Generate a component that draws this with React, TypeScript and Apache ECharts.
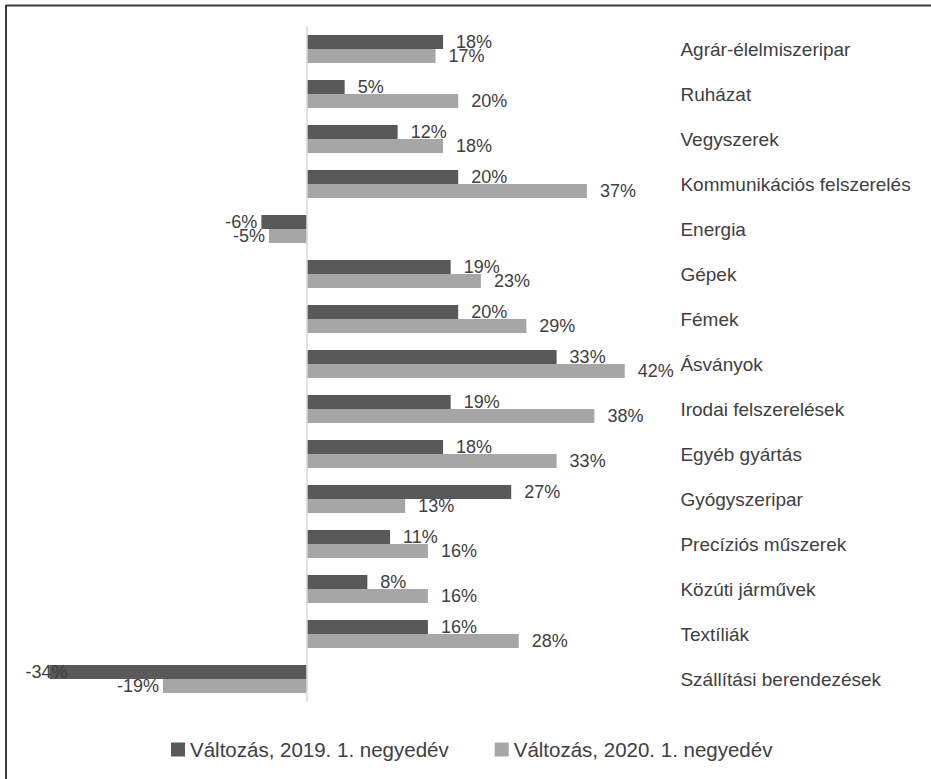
import React, { useEffect, useRef } from 'react';
import * as echarts from 'echarts';

const categories = [
  'Agrár-élelmiszeripar',
  'Ruházat',
  'Vegyszerek',
  'Kommunikációs felszerelés',
  'Energia',
  'Gépek',
  'Fémek',
  'Ásványok',
  'Irodai felszerelések',
  'Egyéb gyártás',
  'Gyógyszeripar',
  'Precíziós műszerek',
  'Közúti járművek',
  'Textíliák',
  'Szállítási berendezések',
];
const change2019 = [18, 5, 12, 20, -6, 19, 20, 33, 19, 18, 27, 11, 8, 16, -34];
const change2020 = [17, 20, 18, 37, -5, 23, 29, 42, 38, 33, 13, 16, 16, 28, -19];
const seriesNames = ['Változás, 2019. 1. negyedév', 'Változás, 2020. 1. negyedév'];

const FONT = '"Liberation Sans", Arial, sans-serif';
const TEXT = '#404040';
const DARK = '#595959';
const LIGHT = '#a6a6a6';

function makeData(vals: number[]) {
  return vals.map((v) => ({
    value: v,
    label: {
      position: v < 0 ? 'left' : 'right',
      distance: v < 0 ? (v < -30 ? -18 : 4) : 13,
    },
  }));
}

export default function App() {
  const ref = useRef<HTMLDivElement>(null);
  useEffect(() => {
    if (!ref.current) return;
    const chart = echarts.init(ref.current, null, { renderer: 'svg' });
    const scale = 7.57;
    const min = -40;
    const max = 45;
    const labelCommon = {
      show: true,
      formatter: '{c}%',
      color: TEXT,
      fontFamily: FONT,
      fontSize: 18,
    };
    chart.setOption({
      animation: false,
      backgroundColor: '#ffffff',
      textStyle: { fontFamily: FONT },
      graphic: [
        { type: 'line', shape: { x1: 6, y1: 5.5, x2: 940, y2: 5.5 }, style: { stroke: '#3a3a3a', lineWidth: 2 } },
        { type: 'line', shape: { x1: 6, y1: 5, x2: 6, y2: 790 }, style: { stroke: '#3a3a3a', lineWidth: 2 } },
      ],
      grid: {
        left: 306.8 - (0 - min) * scale,
        top: 26.5,
        width: (max - min) * scale,
        height: 675,
        containLabel: false,
      },
      legend: {
        left: 171,
        top: 739,
        itemWidth: 14,
        itemHeight: 14,
        itemGap: 46,
        icon: 'rect',
        padding: 0,
        textStyle: { fontSize: 20.5, color: TEXT, fontFamily: FONT },
        data: seriesNames,
      },
      xAxis: {
        type: 'value',
        min,
        max,
        show: false,
        splitLine: { show: false },
      },
      yAxis: {
        type: 'category',
        data: categories,
        inverse: true,
        position: 'right',
        axisLine: { show: false },
        axisTick: { show: false },
        axisLabel: {
          margin: 33,
          color: TEXT,
          fontSize: 19,
          fontFamily: FONT,
        },
      },
      series: [
        {
          name: seriesNames[0],
          type: 'bar',
          barWidth: 14,
          barGap: '0%',
          itemStyle: { color: DARK },
          label: labelCommon,
          data: makeData(change2019),
          markLine: {
            silent: true,
            symbol: ['none', 'none'],
            label: { show: false },
            lineStyle: { color: '#d9d9d9', width: 1.5, type: 'solid' },
            data: [{ xAxis: 0 }],
          },
        },
        {
          name: seriesNames[1],
          type: 'bar',
          barWidth: 14,
          barGap: '0%',
          itemStyle: { color: LIGHT },
          label: labelCommon,
          data: makeData(change2020),
        },
      ],
    });
    return () => chart.dispose();
  }, []);
  return (
    <div
      ref={ref}
      style={{ position: 'fixed', left: 0, top: 0, width: 931, height: 779 }}
    />
  );
}
